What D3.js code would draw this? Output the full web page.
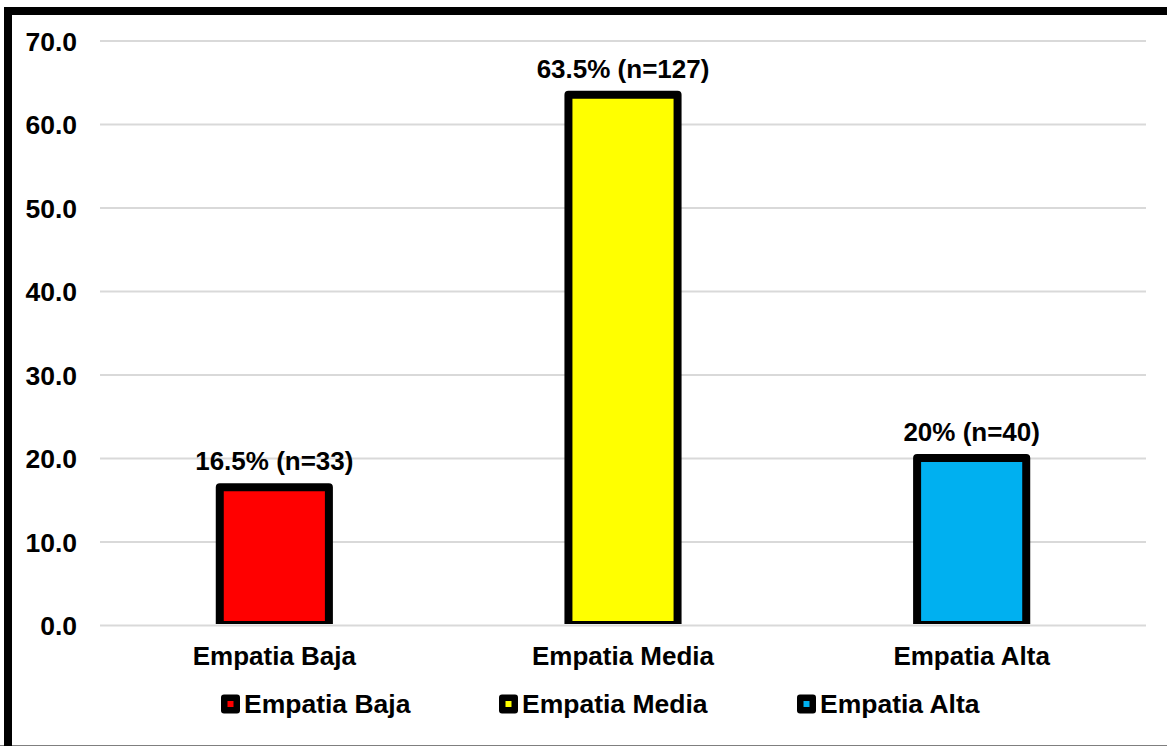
<!DOCTYPE html>
<html>
<head>
<meta charset="utf-8">
<script src="https://cdn.jsdelivr.net/npm/d3@7"></script>
<style>
  html, body { margin: 0; padding: 0; background: #fff; }
  svg { display: block; font-family: Arial, "Liberation Sans", sans-serif; font-weight: bold; }
</style>
</head>
<body>
<svg id="chart" width="1167" height="746"></svg>
<script>
// Distribución de niveles de empatía
const categories = ["Empatia Baja", "Empatia Media", "Empatia Alta"];
const values = [16.5, 63.5, 20];
const labels = ["16.5% (n=33)", "63.5% (n=127)", "20% (n=40)"];
const colors = ["#ff0000", "#ffff00", "#00b0f0"];
const yTicks = [0, 10, 20, 30, 40, 50, 60, 70];

const W = 1167, H = 746;
const svg = d3.select("#chart");

const plot = { left: 100, right: 1146, top: 40.5, bottom: 625 };

const x = d3.scaleBand()
  .domain(categories)
  .range([plot.left, plot.right])
  .paddingInner(0.687)
  .paddingOuter(0.3435);

const y = d3.scaleLinear()
  .domain([0, 70])
  .range([plot.bottom, plot.top]);

// Outer frame: heavy black top and left edges, thin grey bottom edge
svg.append("rect").attr("x", 0).attr("y", 0).attr("width", W).attr("height", H).attr("fill", "#fff");
svg.append("line").attr("x1", 0).attr("x2", W).attr("y1", 745.5).attr("y2", 745.5)
  .attr("stroke", "#7f7f7f").attr("stroke-width", 1);
svg.append("rect").attr("x", 4).attr("y", 7).attr("width", W).attr("height", 8).attr("fill", "#000");
svg.append("rect").attr("x", 4).attr("y", 7).attr("width", 8).attr("height", H).attr("fill", "#000");

// Horizontal gridlines with y-axis labels
const yAxis = d3.axisLeft(y)
  .tickValues(yTicks)
  .tickSize(-(plot.right - plot.left))
  .tickPadding(23)
  .tickFormat(d3.format(".1f"));

const gy = svg.append("g")
  .attr("transform", `translate(${plot.left},0)`)
  .call(yAxis);
gy.select(".domain").remove();
gy.selectAll(".tick line").attr("stroke", "#d9d9d9").attr("stroke-width", 2);
gy.selectAll(".tick text")
  .attr("fill", "#000")
  .attr("font-size", 26.5)
  .attr("font-weight", "bold")
  .attr("font-family", "Arial, 'Liberation Sans', sans-serif")
  .attr("dy", "0.36em");

// Bars, clipped at the baseline
svg.append("clipPath").attr("id", "plotclip")
  .append("rect").attr("x", 0).attr("y", 0).attr("width", W).attr("height", plot.bottom - 1);

svg.append("g").attr("clip-path", "url(#plotclip)")
  .selectAll("rect")
  .data(categories)
  .join("rect")
  .attr("x", d => x(d))
  .attr("width", x.bandwidth())
  .attr("y", (d, i) => y(values[i]))
  .attr("height", (d, i) => y(0) - y(values[i]))
  .attr("fill", (d, i) => colors[i])
  .attr("stroke", "#000")
  .attr("stroke-width", 8)
  .attr("stroke-linejoin", "round");

// Value labels above bars
svg.append("g")
  .selectAll("text")
  .data(categories)
  .join("text")
  .attr("x", d => x(d) + x.bandwidth() / 2)
  .attr("y", (d, i) => y(values[i]) - 17)
  .attr("text-anchor", "middle")
  .attr("font-size", 26)
  .attr("fill", "#000")
  .text((d, i) => labels[i]);

// Category labels
const xAxis = d3.axisBottom(x).tickSize(0).tickPadding(0);
const gx = svg.append("g")
  .attr("transform", `translate(0,${plot.bottom})`)
  .call(xAxis);
gx.select(".domain").remove();
gx.selectAll(".tick text")
  .attr("fill", "#000")
  .attr("font-size", 26)
  .attr("font-weight", "bold")
  .attr("font-family", "Arial, 'Liberation Sans', sans-serif")
  .attr("dy", null)
  .attr("y", 40);

// Legend
const legend = svg.append("g");
const legendStarts = [221, 499, 797];
categories.forEach((c, i) => {
  const lx = legendStarts[i];
  const item = legend.append("g");
  item.append("rect")
    .attr("x", lx).attr("y", 694.5)
    .attr("width", 19).attr("height", 19)
    .attr("rx", 3).attr("fill", "#000");
  item.append("rect")
    .attr("x", lx + 6.5).attr("y", 701)
    .attr("width", 6).attr("height", 6)
    .attr("fill", colors[i]);
  item.append("text")
    .attr("x", lx + 23).attr("y", 713)
    .attr("font-size", 26.5)
    .attr("fill", "#000")
    .text(c);
});
</script>
</body>
</html>
